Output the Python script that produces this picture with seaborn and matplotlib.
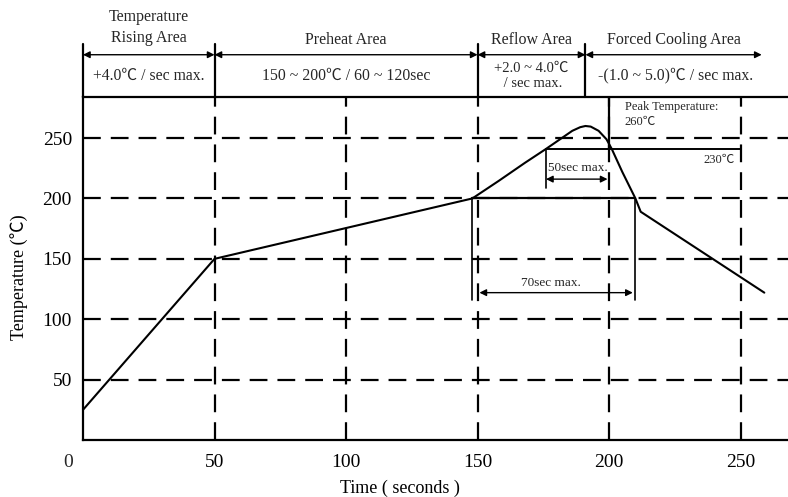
import matplotlib
matplotlib.use('Agg')
import matplotlib.pyplot as plt
import seaborn as sns
import pandas as pd

# ── Data ──
time_s = [0, 50, 148, 158, 168, 176, 182, 186, 189, 191, 193, 196, 199, 201, 205, 210, 212, 259]
temp_c = [25, 150, 200, 214.5, 229.5, 241, 250, 256, 259, 260, 259.5, 256, 249, 241, 222, 200, 189, 122]

grid_x = [50, 100, 150, 200, 250]
grid_y = [50, 100, 150, 200, 250]
x_ticks = [50, 100, 150, 200, 250]
y_ticks = [50, 100, 150, 200, 250]

zone_edges = [0, 50, 150, 191, 258]
zone_titles = ['Temperature\nRising Area', 'Preheat Area', 'Reflow Area', 'Forced Cooling Area']
zone_rates = ['+4.0℃ / sec max.', '150 ~ 200℃ / 60 ~ 120sec',
              '+2.0 ~ 4.0℃\n / sec max.', '-(1.0 ~ 5.0)℃ / sec max.']

peak_line_temp = 241      # drawn "230℃" line
peak_line_span = [176, 250]
t50 = [176, 200]
t70 = [148, 210]

# ── Style ──
sns.set_theme(style="white")
plt.rcParams['font.family'] = ['Liberation Serif', 'Noto Sans CJK SC']

XMAX, YMAX = 268, 284
HDR_TOP = 328

fig = plt.figure(figsize=(7.88, 4.97), dpi=100)
ax = fig.add_axes([83 / 788, 57 / 497, 705 / 788, 343 / 497])
ax.set_xlim(0, XMAX)
ax.set_ylim(0, YMAX)

dash = (0, (8, 4.5))
K = 'black'

# dashed grid
for y in grid_y:
    ax.axhline(y, color=K, lw=1.6, linestyle=dash, zorder=1)
for x in grid_x:
    ax.axvline(x, color=K, lw=1.6, linestyle=dash, zorder=1)

# profile curve
df = pd.DataFrame({'t': time_s, 'T': temp_c})
sns.lineplot(data=df, x='t', y='T', color=K, lw=1.5, sort=False, ax=ax, zorder=3)

# solid guide lines
ax.plot([t70[0], t70[1]], [200, 200], color=K, lw=1.6, zorder=2)
ax.plot(peak_line_span, [peak_line_temp, peak_line_temp], color=K, lw=1.4, zorder=2)
ax.plot([200, 200], [peak_line_temp, YMAX], color=K, lw=1.6, zorder=2)
ax.plot([t50[0], t50[0]], [peak_line_temp, 209], color=K, lw=1.2, zorder=2)
for x in t70:
    ax.plot([x, x], [200, 116], color=K, lw=1.2, zorder=2)

arrow = dict(arrowstyle='<|-|>', color=K, lw=1.0, mutation_scale=10, shrinkA=0, shrinkB=0)
ax.annotate('', xy=(t50[0], 216), xytext=(t50[1] - 0.6, 216), arrowprops=arrow)
ax.annotate('', xy=(t70[0] + 2.7, 122), xytext=(t70[1] - 1, 122), arrowprops=arrow)

ax.text(188, 225.5, '50sec max.', ha='center', va='center', fontsize=9.5)
ax.text(178, 130, '70sec max.', ha='center', va='center', fontsize=9.5)
ax.text(206, 280.5, 'Peak Temperature:\n260℃', ha='left', va='top', fontsize=9, linespacing=1.35)
ax.text(247.7, 232, '230℃', ha='right', va='center', fontsize=9)

# ── Header ──
for x in zone_edges[:-1]:
    ax.plot([x, x], [YMAX, HDR_TOP], color=K, lw=1.6, clip_on=False)
for i in range(len(zone_titles)):
    a, b = zone_edges[i], zone_edges[i + 1]
    ax.annotate('', xy=(a, 319), xytext=(b, 319), arrowprops=arrow, annotation_clip=False)
    c = (a + b) / 2
    ty = 341.5 if i == 0 else 331.5
    ax.text(c, ty, zone_titles[i], ha='center', va='center', fontsize=11.5, linespacing=1.35)
    ax.text(c + (0.6 if i == 3 else 0), 301.5, zone_rates[i], ha='center', va='center',
            fontsize=11.3 if i != 2 else 10.5, linespacing=1.25)

# ── Axes ──
ax.spines['right'].set_visible(False)
for s in ['left', 'bottom', 'top']:
    ax.spines[s].set_color(K)
    ax.spines[s].set_linewidth(1.6)

ax.set_xticks(x_ticks)
ax.set_yticks(y_ticks)
ax.tick_params(axis='both', length=0, labelsize=14, colors=K)
ax.tick_params(axis='x', pad=10)
ax.tick_params(axis='y', pad=8)
ax.text(-5.8, -18.5, '0', ha='center', va='center', fontsize=14)

ax.set_xlabel('Time ( seconds )', fontsize=13, color=K)
ax.xaxis.set_label_coords(317 / 705, -0.115)
ax.set_ylabel('Temperature (℃)', fontsize=13, color=K)
ax.yaxis.set_label_coords(-0.078, 0.475)

fig.savefig('out.png', dpi=100)
